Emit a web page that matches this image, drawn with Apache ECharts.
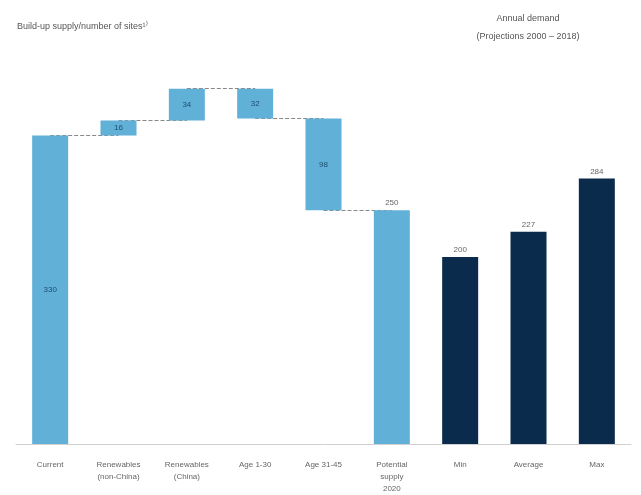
<!DOCTYPE html>
<html>
<head>
<meta charset="utf-8">
<script src="https://cdn.jsdelivr.net/npm/echarts@6/dist/echarts.min.js"></script>
<style>
  html, body { margin: 0; padding: 0; background: #ffffff; }
  #chart { width: 641px; height: 495px; }
</style>
</head>
<body>
<div id="chart"></div>
<script>
// Categories along the x axis
const categories = ['Current', 'Renewables\n(non-China)', 'Renewables\n(China)', 'Age 1-30', 'Age 31-45',
  'Potential\nsupply\n2020', 'Min', 'Average', 'Max'];
// Starting level, then the waterfall steps (signed)
const startValue = 330;
const stepValues = [16, 34, -32, -98];
// Resulting supply and the demand scenarios
const potentialSupply = 250;
const demandValues = [200, 227, 284];

const lightBlue = '#60b0d8';
const navy = '#0b2b4d';

// Build invisible offsets and visible heights for the waterfall
const offsets = [0];
const heights = [startValue];
const barColors = [lightBlue];
const levels = [startValue];
let level = startValue;
stepValues.forEach(function (d) {
  const next = level + d;
  offsets.push(Math.min(level, next));
  heights.push(Math.abs(d));
  barColors.push(lightBlue);
  level = next;
  levels.push(level);
});
offsets.push(0); heights.push(potentialSupply); barColors.push(lightBlue);
demandValues.forEach(function (v) { offsets.push(0); heights.push(v); barColors.push(navy); });

// Dashed connectors between consecutive waterfall levels
const connectors = [];
for (let i = 0; i < levels.length; i++) {
  connectors.push([
    { coord: [i, levels[i]] },
    { coord: [i + 1, levels[i]] }
  ]);
}

const labelInside = [true, true, true, true, true, false, false, false, false];

const chart = echarts.init(document.getElementById('chart'));
chart.setOption({
  animation: false,
  backgroundColor: '#ffffff',
  title: [
    {
      text: 'Build-up supply/number of sites¹⁾',
      left: 12, top: 17,
      textStyle: { fontSize: 9, fontWeight: 'normal', color: '#555', fontFamily: 'Arial, Liberation Sans' }
    },
    {
      text: 'Annual demand\n(Projections 2000 – 2018)',
      left: 523, top: 5, textAlign: 'center',
      textStyle: { fontSize: 9, fontWeight: 'normal', color: '#555', lineHeight: 18, fontFamily: 'Arial, Liberation Sans' }
    }
  ],
  grid: { left: 16, right: 10, top: 70, bottom: 50 },
  xAxis: {
    type: 'category',
    data: categories,
    axisTick: { show: false },
    axisLine: { lineStyle: { color: '#d0d0d0', width: 1 } },
    axisLabel: { color: '#666', fontSize: 8, lineHeight: 12, margin: 15, interval: 0, fontFamily: 'Arial, Liberation Sans' }
  },
  yAxis: {
    type: 'value', min: 0, max: 400,
    show: false, splitLine: { show: false }
  },
  series: [
    {
      type: 'bar', stack: 'w', barWidth: 36,
      data: offsets,
      itemStyle: { color: 'transparent' },
      silent: true,
      z: 1,
      markLine: {
        z: 0,
        symbol: 'none', silent: true,
        label: { show: false },
        lineStyle: { color: '#888', type: 'dashed', width: 1 },
        data: connectors
      }
    },
    {
      type: 'bar', stack: 'w', barWidth: 36, z: 3,
      data: heights.map(function (h, i) {
        return {
          value: h,
          itemStyle: { color: barColors[i] },
          label: {
            show: true,
            position: labelInside[i] ? 'inside' : 'top',
            distance: 3,
            color: labelInside[i] ? '#1f4e6e' : '#666',
            fontSize: 8,
            fontFamily: 'Arial, Liberation Sans',
            formatter: String(h)
          }
        };
      })
    }
  ]
});
</script>
</body>
</html>
